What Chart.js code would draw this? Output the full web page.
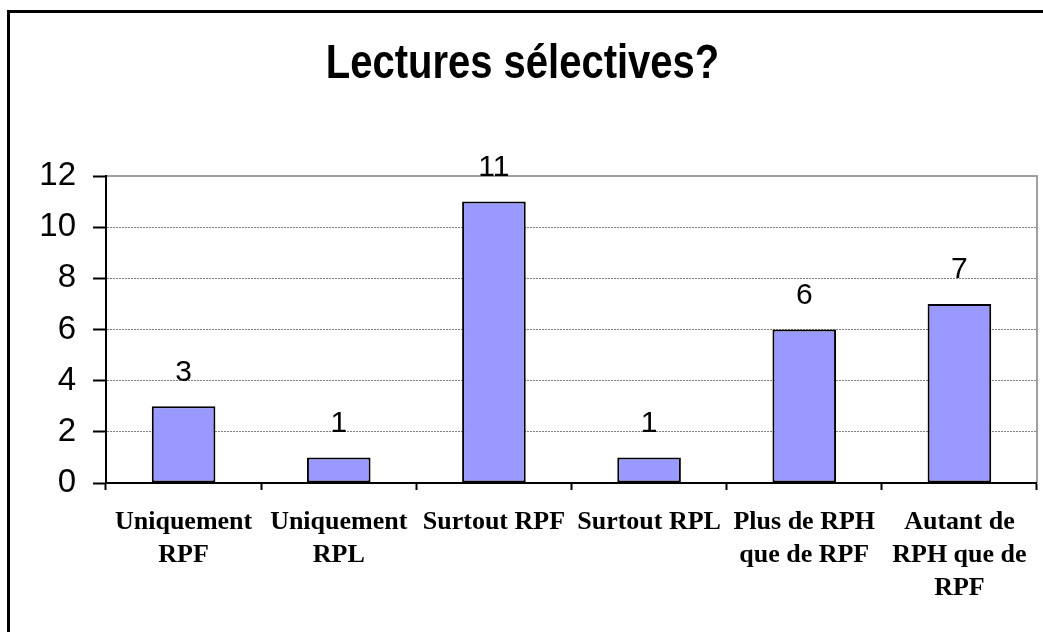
<!DOCTYPE html>
<html>
<head>
<meta charset="utf-8">
<title>Lectures sélectives?</title>
<script src="https://cdn.jsdelivr.net/npm/chart.js@4/dist/chart.umd.min.js"></script>
<style>
  html, body { margin: 0; padding: 0; background: #ffffff; }
  #wrap { width: 1043px; height: 632px; }
</style>
</head>
<body>
<div id="wrap"><canvas id="chart" width="1043" height="632"></canvas></div>
<script>
// Categories (multi-line labels) and counts
const categories = [
  ['Uniquement', 'RPF'],
  ['Uniquement', 'RPL'],
  ['Surtout RPF'],
  ['Surtout RPL'],
  ['Plus de RPH', 'que de RPF'],
  ['Autant de', 'RPH que de', 'RPF']
];
const counts = [3, 1, 11, 1, 6, 7];
const yTicks = [0, 2, 4, 6, 8, 10, 12];
const chartTitle = 'Lectures sélectives?';

// Frame around the whole figure and the grey plot-area box
const framePlugin = {
  id: 'frame',
  beforeDraw(chart) {
    const ctx = chart.ctx;
    const a = chart.chartArea;
    ctx.save();
    ctx.fillStyle = '#ffffff';
    ctx.fillRect(0, 0, chart.width, chart.height);
    ctx.strokeStyle = '#000000';
    ctx.lineWidth = 3;
    ctx.beginPath();
    ctx.moveTo(8.5, chart.height + 2);
    ctx.lineTo(8.5, 11.5);
    ctx.lineTo(chart.width + 2, 11.5);
    ctx.stroke();
    ctx.strokeStyle = '#a0a0a0';
    ctx.lineWidth = 2;
    ctx.beginPath();
    ctx.moveTo(a.left, a.top);
    ctx.lineTo(a.right, a.top);
    ctx.lineTo(a.right, a.bottom);
    ctx.stroke();
    ctx.restore();
  }
};

// Tall bold heading centred over the plot area
const headingPlugin = {
  id: 'heading',
  afterDraw(chart) {
    const ctx = chart.ctx;
    ctx.save();
    ctx.translate(chart.width / 2 + 1, 65);
    ctx.scale(1, 1.22);
    ctx.font = 'bold 40px "Liberation Sans", Arial, sans-serif';
    ctx.fillStyle = '#000000';
    ctx.textAlign = 'center';
    ctx.textBaseline = 'middle';
    ctx.fillText(chartTitle, 0, 0);
    ctx.restore();
  }
};

// Value printed above each bar
const valueLabels = {
  id: 'valueLabels',
  afterDatasetsDraw(chart) {
    const ctx = chart.ctx;
    const meta = chart.getDatasetMeta(0);
    const data = chart.data.datasets[0].data;
    ctx.save();
    ctx.font = '30px "Liberation Sans", Arial, sans-serif';
    ctx.fillStyle = '#000000';
    ctx.textAlign = 'center';
    ctx.textBaseline = 'middle';
    meta.data.forEach((bar, i) => {
      ctx.fillText(String(data[i]), bar.x, bar.y - 34);
    });
    ctx.restore();
  }
};

new Chart(document.getElementById('chart'), {
  type: 'bar',
  data: {
    labels: categories,
    datasets: [{
      data: counts,
      backgroundColor: '#9999ff',
      borderColor: '#000000',
      borderWidth: 2,
      borderSkipped: false,
      barPercentage: 0.41,
      categoryPercentage: 1.0
    }]
  },
  options: {
    responsive: false,
    animation: false,
    devicePixelRatio: 1,
    layout: { padding: { left: 0, right: 5, top: 176, bottom: 0 } },
    plugins: {
      legend: { display: false },
      tooltip: { enabled: false },
      title: { display: false }
    },
    scales: {
      x: {
        offset: true,
        grid: {
          offset: true,
          drawOnChartArea: false,
          drawTicks: true,
          tickLength: 7,
          tickColor: '#000000',
          tickWidth: 2
        },
        border: { display: true, color: '#000000', width: 2 },
        ticks: {
          color: '#000000',
          padding: 16,
          maxRotation: 0,
          autoSkip: false,
          font: { family: '"Liberation Serif", "Times New Roman", serif', size: 26, weight: 'bold', lineHeight: 1.27 }
        },
        afterFit(scale) { scale.height = 149; }
      },
      y: {
        min: 0,
        max: 12,
        afterBuildTicks(scale) { scale.ticks = yTicks.map(v => ({ value: v })); },
        grid: {
          drawTicks: true,
          tickLength: 13,
          tickColor: '#000000',
          tickWidth: 2,
          tickBorderDash: [],
          lineWidth: 1,
          color(ctx) {
            const v = ctx.tick ? ctx.tick.value : null;
            return (v === 0 || v === 12) ? 'rgba(0,0,0,0)' : '#808080';
          }
        },
        border: { display: true, color: '#000000', width: 2, dash: [2, 1] },
        ticks: {
          color: '#000000',
          padding: 17,
          font: { family: '"Liberation Sans", Arial, sans-serif', size: 33 }
        },
        afterFit(scale) { scale.width = 106; }
      }
    }
  },
  plugins: [framePlugin, valueLabels, headingPlugin]
});
</script>
</body>
</html>
